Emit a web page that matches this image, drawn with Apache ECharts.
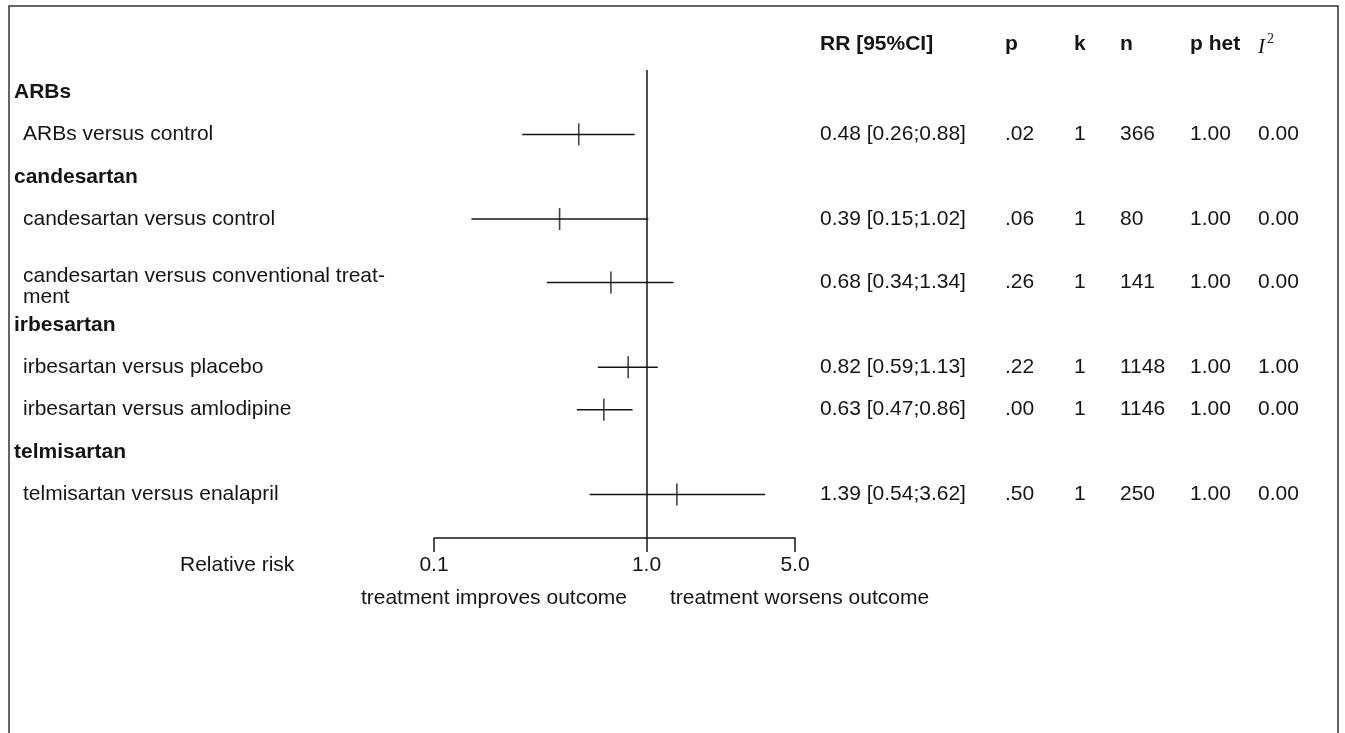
<!DOCTYPE html>
<html>
<head>
<meta charset="utf-8">
<script src="https://cdn.jsdelivr.net/npm/echarts@6/dist/echarts.min.js"></script>
<style>
    html, body { margin: 0; padding: 0; background: #fff; }
    #main { width: 1345px; height: 733px; }
</style>
</head>
<body>
<div id="main"></div>
<script type="text/javascript">
// rows of the forest plot, top to bottom
var labels = ['ARBs', 'ARBs versus control', 'candesartan', 'candesartan versus control',
    'candesartan versus conventional treat-\nment', 'irbesartan', 'irbesartan versus placebo',
    'irbesartan versus amlodipine', 'telmisartan', 'telmisartan versus enalapril'];
var isGroup = [1, 0, 1, 0, 0, 1, 0, 0, 1, 0];
var rowPos = [0, 1, 2, 3, 4.5, 5.5, 6.5, 7.5, 8.5, 9.5];
var rr    = [null, 0.48, null, 0.39, 0.68, null, 0.82, 0.63, null, 1.39];
var lower = [null, 0.26, null, 0.15, 0.34, null, 0.59, 0.47, null, 0.54];
var upper = [null, 0.88, null, 1.02, 1.34, null, 1.13, 0.86, null, 3.62];
var rrText = ['', '0.48 [0.26;0.88]', '', '0.39 [0.15;1.02]', '0.68 [0.34;1.34]', '',
    '0.82 [0.59;1.13]', '0.63 [0.47;0.86]', '', '1.39 [0.54;3.62]'];
var pVal = ['', '.02', '', '.06', '.26', '', '.22', '.00', '', '.50'];
var kVal = ['', '1', '', '1', '1', '', '1', '1', '', '1'];
var nVal = ['', '366', '', '80', '141', '', '1148', '1146', '', '250'];
var pHet = ['', '1.00', '', '1.00', '1.00', '', '1.00', '1.00', '', '1.00'];
var i2Val = ['', '0.00', '', '0.00', '0.00', '', '1.00', '0.00', '', '0.00'];
var xTicks = [0.1, 1, 5];

var FONT = 'Liberation Sans, Arial, Helvetica, sans-serif';
var FS = 21;
var INK = '#151515';
// left edge of each text column
var colX = [820, 1005, 1074, 1120, 1190, 1258];
var colData = [rrText, pVal, kVal, nVal, pHet, i2Val];

var ciData = [], ptData = [], rowData = [];
for (var i = 0; i < labels.length; i++) {
    rowData.push([1, rowPos[i], i]);
    if (rr[i] != null) {
        ciData.push([lower[i], upper[i], rowPos[i]]);
        ptData.push([rr[i], rowPos[i]]);
    }
}

function txt(x, y, s, opt) {
    opt = opt || {};
    return {
        type: 'text',
        style: {
            x: x, y: y, text: s, fill: INK,
            fontFamily: opt.family || FONT,
            fontSize: opt.size || FS,
            fontWeight: opt.weight || 'normal',
            fontStyle: opt.style || 'normal',
            align: opt.align || 'left',
            verticalAlign: 'middle',
            lineHeight: 21
        }
    };
}

var myChart = echarts.init(document.getElementById('main'), null, { renderer: 'canvas' });
var option = {
    animation: false,
    backgroundColor: '#fff',
    grid: { left: 434, right: 550, top: 70, bottom: 195 },
    xAxis: {
        type: 'log',
        logBase: 10,
        min: 0.1,
        max: 5,
        position: 'bottom',
        axisLine: { show: true, onZero: false, lineStyle: { color: INK, width: 1.5 } },
        axisTick: { show: true, customValues: xTicks, length: 14, lineStyle: { color: INK, width: 1.5 } },
        axisLabel: {
            show: true, customValues: xTicks, margin: 17,
            fontFamily: FONT, fontSize: FS, color: INK,
            formatter: function (v) { return Number(v).toFixed(1); }
        },
        splitLine: { show: false },
        minorTick: { show: false }
    },
    yAxis: {
        type: 'value',
        inverse: true,
        min: -0.52,
        max: 10.53,
        show: false
    },
    graphic: [
        { type: 'rect', shape: { x: 9, y: 6, width: 1329, height: 760 },
          style: { fill: 'none', stroke: '#333', lineWidth: 1.5 } },
        txt(820, 44, 'RR [95%CI]', { weight: 'bold' }),
        txt(1005, 44, 'p', { weight: 'bold' }),
        txt(1074, 44, 'k', { weight: 'bold' }),
        txt(1120, 44, 'n', { weight: 'bold' }),
        txt(1190, 44, 'p het', { weight: 'bold' }),
        txt(1258, 47, 'I', { family: 'Liberation Serif, DejaVu Serif, serif', style: 'italic' }),
        txt(1267, 39, '2', { family: 'Liberation Serif, DejaVu Serif, serif', size: 14 }),
        txt(180, 565, 'Relative risk'),
        txt(627, 598, 'treatment improves outcome', { align: 'right' }),
        txt(670, 598, 'treatment worsens outcome')
    ],
    series: [
        {
            // confidence intervals
            type: 'custom',
            data: ciData,
            encode: { x: [0, 1], y: 2 },
            renderItem: function (params, api) {
                var a = api.coord([api.value(0), api.value(2)]);
                var b = api.coord([api.value(1), api.value(2)]);
                return {
                    type: 'line',
                    shape: { x1: a[0], y1: a[1], x2: b[0], y2: b[1] },
                    style: { stroke: INK, lineWidth: 1.5 }
                };
            }
        },
        {
            // point estimates + line of no effect
            type: 'scatter',
            data: ptData,
            symbol: 'rect',
            symbolSize: [1.6, 22],
            itemStyle: { color: INK },
            markLine: {
                silent: true,
                symbol: ['none', 'none'],
                label: { show: false },
                lineStyle: { color: INK, width: 1.5, type: 'solid' },
                data: [{ xAxis: 1 }]
            }
        },
        {
            // table text: labels and columns
            type: 'custom',
            data: rowData,
            encode: { x: 0, y: 1 },
            renderItem: function (params, api) {
                var i = api.value(2);
                var y = api.coord([1, api.value(1)])[1];
                var kids = [];
                if (isGroup[i]) {
                    kids.push(txt(14, y, labels[i], { weight: 'bold' }));
                } else {
                    kids.push(txt(23, y + (labels[i].indexOf('\n') >= 0 ? 4 : 0), labels[i]));
                    for (var c = 0; c < colX.length; c++) {
                        kids.push(txt(colX[c], y, colData[c][i]));
                    }
                }
                return { type: 'group', children: kids };
            }
        }
    ]
};
myChart.setOption(option);
</script>
</body>
</html>
